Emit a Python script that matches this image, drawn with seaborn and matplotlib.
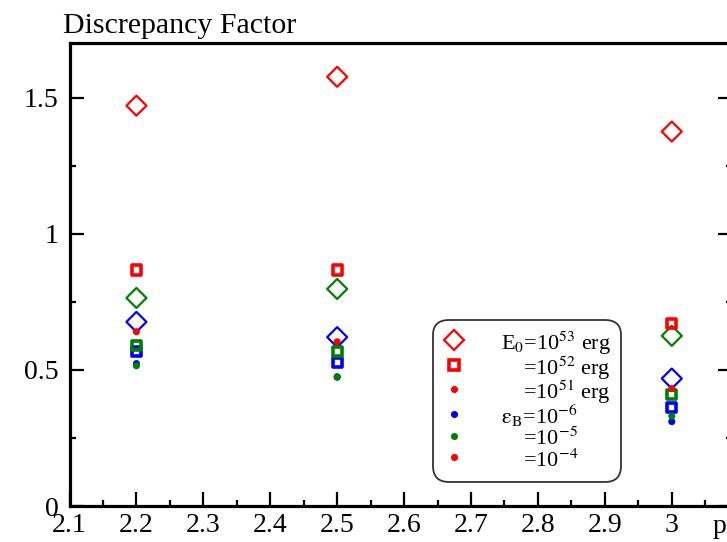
import matplotlib
matplotlib.use("Agg")
import matplotlib.pyplot as plt
from matplotlib.lines import Line2D
from matplotlib.ticker import MultipleLocator, FuncFormatter
import seaborn as sns

# Electron power-law index
p_values = [2.2, 2.5, 3.0]

# Discrepancy factor, E0 = 1e53 erg (open diamonds)
e53_eb6 = [0.676, 0.620, 0.468]
e53_eb5 = [0.764, 0.797, 0.625]
e53_eb4 = [1.470, 1.576, 1.375]

# E0 = 1e52 erg (open squares)
e52_eb6 = [0.567, 0.527, 0.362]
e52_eb5 = [0.589, 0.567, 0.410]
e52_eb4 = [0.867, 0.867, 0.669]

# E0 = 1e51 erg (dots)
e51_eb6 = [0.523, 0.473, 0.310]
e51_eb5 = [0.515, 0.475, 0.330]
e51_eb4 = [0.640, 0.603, 0.431]

eps_colors = {"eb6": "#0000ff", "eb5": "#008000", "eb4": "#ff0000"}

legend_labels = [
    "E$_0$=10$^{53}$ erg",
    "    =10$^{52}$ erg",
    "    =10$^{51}$ erg",
    r"$\mathrm{\epsilon_B}$=10$^{-6}$",
    "    =10$^{-5}$",
    "    =10$^{-4}$",
]

sns.set_style("white")
plt.rcParams["font.family"] = ["Liberation Serif", "DejaVu Serif"]
plt.rcParams["mathtext.fontset"] = "stix"
plt.rcParams["text.color"] = "black"
plt.rcParams["axes.labelcolor"] = "black"
plt.rcParams["xtick.color"] = "black"
plt.rcParams["ytick.color"] = "black"

fig = plt.figure(figsize=(7.27, 5.42), dpi=100)
ax = fig.add_axes([0.0956, 0.0664, 0.9113, 0.8542])

marker_groups = [
    ({"eb6": e53_eb6, "eb5": e53_eb5, "eb4": e53_eb4},
     dict(marker="D", s=104, linewidth=1.6), False),
    ({"eb6": e52_eb6, "eb5": e52_eb5, "eb4": e52_eb4},
     dict(marker="s", s=45, linewidth=2.6), False),
    ({"eb6": e51_eb6, "eb5": e51_eb5, "eb4": e51_eb4},
     dict(marker="o", s=26, linewidth=0), True),
]

z = 3
for series, style, filled in marker_groups:
    for key in ("eb6", "eb5", "eb4"):
        c = eps_colors[key]
        sns.scatterplot(
            x=p_values, y=series[key], ax=ax, legend=False,
            facecolor=c if filled else "none",
            edgecolor="none" if filled else c,
            zorder=z, **style,
        )
        z += 0.01

ax.set_xlim(2.1, 3.09)
ax.set_ylim(0, 1.7)
ax.xaxis.set_major_locator(MultipleLocator(0.1))
ax.xaxis.set_minor_locator(MultipleLocator(0.05))
ax.yaxis.set_major_locator(MultipleLocator(0.5))
ax.yaxis.set_minor_locator(MultipleLocator(0.25))
fmt = FuncFormatter(lambda v, pos: f"{v:g}")
ax.xaxis.set_major_formatter(fmt)
ax.yaxis.set_major_formatter(fmt)

ax.tick_params(which="both", direction="in", top=False, right=True,
               bottom=True, left=True, labelsize=20, color="black",
               labelcolor="black")
ax.tick_params(which="major", length=10, width=1.6)
ax.tick_params(which="minor", length=4.3, width=1.6)
ax.tick_params(axis="y", which="major", pad=8)
ax.tick_params(axis="x", which="major", pad=5)

for side in ("left", "right", "top", "bottom"):
    ax.spines[side].set_color("black")
    ax.spines[side].set_linewidth(2.3)

ax.set_ylabel("Discrepancy Factor", rotation=0, fontsize=21.5,
              ha="left", va="baseline", color="black")
ax.yaxis.set_label_coords(-0.0098, 1.0216)
ax.set_xlabel("p", fontsize=20, ha="left", va="baseline", color="black")
ax.xaxis.set_label_coords(0.97, -0.058)

handles = [
    Line2D([], [], ls="none", marker="D", ms=10.2, mfc="none", mec="#ff0000", mew=1.6),
    Line2D([], [], ls="none", marker="s", ms=6.7, mfc="none", mec="#ff0000", mew=2.6),
    Line2D([], [], ls="none", marker="o", ms=5.1, mfc="#ff0000", mec="none"),
    Line2D([], [], ls="none", marker="o", ms=5.1, mfc="#0000ff", mec="none"),
    Line2D([], [], ls="none", marker="o", ms=5.1, mfc="#008000", mec="none"),
    Line2D([], [], ls="none", marker="o", ms=5.1, mfc="#ff0000", mec="none"),
]
leg = ax.legend(handles, legend_labels, loc="lower left",
                bbox_to_anchor=(0.549, 0.052), borderaxespad=0,
                fontsize=16, frameon=True, fancybox=True, framealpha=1,
                edgecolor="#333333", borderpad=0.45, handlelength=1.0,
                handleheight=1.3, handletextpad=1.6, labelspacing=-0.14,
                labelcolor="black")
leg.get_frame().set_linewidth(1.3)
leg.get_frame().set_boxstyle("round,pad=0,rounding_size=0.7")

fig.savefig("out.png", dpi=100)
